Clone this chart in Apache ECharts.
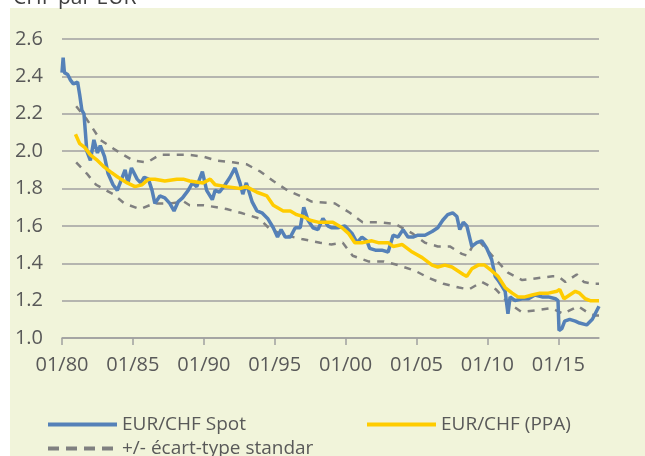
<!DOCTYPE html>
<html>
<head>
<meta charset="utf-8">
<script src="https://cdn.jsdelivr.net/npm/echarts@6/dist/echarts.min.js"></script>
<style>
  html, body { margin: 0; padding: 0; background: #fff; }
  #main { width: 645px; height: 456px; }
</style>
</head>
<body>
<div id="main"></div>
<script>
// data: [year, value]
var spot = [
  [1980.0, 2.42], [1980.08, 2.50], [1980.17, 2.42], [1980.4, 2.41], [1980.6, 2.38], [1980.8, 2.36],
  [1981.1, 2.37], [1981.25, 2.30], [1981.4, 2.22], [1981.55, 2.20], [1981.65, 2.10], [1981.75, 2.00],
  [1982.0, 1.95], [1982.25, 2.06], [1982.5, 1.99], [1982.7, 2.03], [1983.0, 1.97], [1983.25, 1.88],
  [1983.6, 1.82], [1983.9, 1.79], [1984.1, 1.83], [1984.45, 1.90], [1984.65, 1.83], [1984.9, 1.91],
  [1985.3, 1.85], [1985.55, 1.83], [1985.8, 1.86], [1986.1, 1.85], [1986.35, 1.79], [1986.55, 1.72],
  [1986.9, 1.76], [1987.25, 1.75], [1987.6, 1.72], [1987.9, 1.68], [1988.2, 1.73], [1988.5, 1.75],
  [1988.9, 1.79], [1989.2, 1.83], [1989.5, 1.81], [1989.9, 1.89], [1990.2, 1.79], [1990.6, 1.74],
  [1990.8, 1.79], [1991.1, 1.78], [1991.5, 1.82], [1991.85, 1.86], [1992.2, 1.91], [1992.55, 1.83],
  [1992.75, 1.77], [1993.0, 1.83], [1993.4, 1.73], [1993.75, 1.68], [1994.1, 1.67], [1994.5, 1.64],
  [1994.9, 1.59], [1995.2, 1.54], [1995.45, 1.58], [1995.75, 1.54], [1996.1, 1.54], [1996.45, 1.59],
  [1996.8, 1.59], [1997.05, 1.70], [1997.35, 1.63], [1997.7, 1.59], [1998.05, 1.58], [1998.4, 1.64],
  [1998.75, 1.60], [1999.0, 1.59], [1999.45, 1.59], [1999.95, 1.60], [2000.45, 1.56], [2000.8, 1.51],
  [2001.15, 1.54], [2001.5, 1.52], [2001.7, 1.48], [2002.1, 1.47], [2002.55, 1.47], [2003.0, 1.46],
  [2003.35, 1.55], [2003.7, 1.54], [2004.05, 1.58], [2004.4, 1.54], [2004.75, 1.54], [2005.1, 1.55],
  [2005.6, 1.55], [2006.1, 1.57], [2006.5, 1.59], [2006.85, 1.63], [2007.2, 1.66], [2007.55, 1.67],
  [2007.85, 1.65], [2008.05, 1.58], [2008.3, 1.62], [2008.55, 1.60], [2008.9, 1.49], [2009.25, 1.51],
  [2009.6, 1.52], [2009.95, 1.48], [2010.3, 1.42], [2010.55, 1.33], [2010.75, 1.31], [2011.0, 1.28],
  [2011.25, 1.25], [2011.45, 1.13], [2011.6, 1.22], [2011.95, 1.20], [2012.45, 1.21], [2012.9, 1.21],
  [2013.35, 1.23], [2013.85, 1.22], [2014.3, 1.22], [2014.8, 1.21], [2014.98, 1.20], [2015.05, 1.04],
  [2015.25, 1.05], [2015.45, 1.09], [2015.8, 1.10], [2016.2, 1.09], [2016.5, 1.08], [2017.0, 1.07],
  [2017.4, 1.10], [2017.6, 1.13], [2017.87, 1.17]
];

var ppa = [
  [1980.95, 2.09], [1981.25, 2.04], [1981.6, 2.02], [1982.0, 1.98], [1982.5, 1.95], [1982.9, 1.92],
  [1983.4, 1.89], [1983.95, 1.86], [1984.6, 1.83], [1985.15, 1.81], [1985.65, 1.82], [1986.1, 1.85],
  [1986.55, 1.85], [1987.25, 1.84], [1988.1, 1.85], [1988.55, 1.85], [1989.0, 1.84], [1989.95, 1.83],
  [1990.45, 1.85], [1990.8, 1.82], [1991.6, 1.81], [1992.55, 1.80], [1993.0, 1.81], [1993.75, 1.78],
  [1994.45, 1.76], [1994.9, 1.71], [1995.6, 1.68], [1996.1, 1.68], [1996.55, 1.66], [1997.0, 1.65],
  [1997.5, 1.63], [1998.05, 1.62], [1999.1, 1.62], [1999.75, 1.59], [2000.2, 1.56], [2000.65, 1.51],
  [2001.15, 1.51], [2001.85, 1.52], [2002.3, 1.51], [2003.0, 1.51], [2003.35, 1.49], [2004.0, 1.50],
  [2004.7, 1.46], [2005.4, 1.43], [2006.1, 1.39], [2006.5, 1.38], [2007.0, 1.39], [2007.5, 1.38],
  [2007.9, 1.36], [2008.3, 1.34], [2008.55, 1.33], [2008.9, 1.37], [2009.35, 1.39], [2009.8, 1.39],
  [2010.3, 1.36], [2010.75, 1.33], [2011.25, 1.27], [2011.75, 1.24], [2012.15, 1.22], [2012.65, 1.22],
  [2013.15, 1.23], [2013.7, 1.24], [2014.3, 1.24], [2014.9, 1.25], [2015.1, 1.26], [2015.4, 1.21],
  [2015.8, 1.23], [2016.2, 1.25], [2016.5, 1.24], [2016.9, 1.21], [2017.25, 1.20], [2017.87, 1.20]
];

var upper = [
  [1981.0, 2.24], [1981.75, 2.17], [1982.7, 2.06], [1983.9, 2.00], [1985.0, 1.95], [1986.0, 1.94],
  [1986.9, 1.98], [1988.1, 1.98], [1989.0, 1.98], [1990.0, 1.97], [1990.9, 1.95], [1992.05, 1.94],
  [1993.0, 1.93], [1994.0, 1.89], [1994.9, 1.84], [1995.9, 1.79], [1996.8, 1.76], [1997.6, 1.73],
  [1999.25, 1.72], [2000.3, 1.67], [2001.2, 1.62], [2002.3, 1.62], [2003.5, 1.61], [2004.7, 1.56],
  [2005.6, 1.51], [2006.5, 1.49], [2007.35, 1.49], [2008.2, 1.45], [2008.6, 1.44], [2009.0, 1.50],
  [2009.4, 1.52], [2010.0, 1.47], [2010.7, 1.41], [2011.45, 1.35], [2012.45, 1.31], [2013.5, 1.32],
  [2014.6, 1.33], [2015.0, 1.33], [2015.5, 1.30], [2016.3, 1.34], [2016.8, 1.30], [2017.45, 1.29],
  [2017.87, 1.29]
];

var lower = [
  [1981.0, 1.94], [1981.75, 1.88], [1982.4, 1.82], [1983.6, 1.77], [1984.4, 1.72], [1985.5, 1.69],
  [1986.5, 1.72], [1987.6, 1.72], [1988.6, 1.73], [1989.0, 1.71], [1990.0, 1.71], [1990.9, 1.70],
  [1991.6, 1.69], [1992.6, 1.67], [1993.9, 1.64], [1994.7, 1.58], [1995.7, 1.55], [1996.9, 1.53],
  [1998.2, 1.51], [1999.0, 1.50], [1999.8, 1.51], [2000.5, 1.44], [2001.6, 1.41], [2002.7, 1.41],
  [2003.7, 1.39], [2004.9, 1.36], [2005.9, 1.32], [2006.9, 1.29], [2008.0, 1.27], [2008.7, 1.26],
  [2009.6, 1.30], [2010.6, 1.26], [2011.45, 1.19], [2012.4, 1.14], [2013.6, 1.15], [2014.5, 1.16],
  [2015.35, 1.13], [2015.6, 1.14], [2016.4, 1.17], [2017.0, 1.14], [2017.6, 1.12], [2017.87, 1.12]
];

var xTicks = [1980, 1985, 1990, 1995, 2000, 2005, 2010, 2015];

var font = "'Open Sans', sans-serif";
var textColor = '#595959';
var bandName = '+/- écart-type standar';

var myChart = echarts.init(document.getElementById('main'));

function legendAt(name, left, top, lineType) {
    return {
        data: [name], left: left, top: top,
        itemWidth: 69, itemHeight: 18,
        itemStyle: { opacity: 0 },
        lineStyle: { width: 4, type: lineType || 'solid' },
        textStyle: { fontSize: 19, color: textColor, fontFamily: font }
    };
}

var option = {
    animation: false,
    textStyle: { fontFamily: font },
    graphic: [
        { type: 'rect', z: -10, shape: { x: 10, y: 8, width: 635, height: 448 }, style: { fill: '#F1F4DA' } },
        {
            type: 'text', x: 13, y: -2,
            style: { text: 'CHF par EUR', fontSize: 21, fontFamily: font, fill: '#404040', verticalAlign: 'middle' }
        }
    ],
    grid: { left: 62, right: 46, top: 39, bottom: 118 },
    legend: [
        legendAt('EUR/CHF Spot', 41, 410),
        legendAt('EUR/CHF (PPA)', 360, 410),
        legendAt(bandName, 41, 434, [11, 7])
    ],
    xAxis: {
        type: 'value',
        min: 1980,
        max: 2017.87,
        interval: 5,
        axisLine: { lineStyle: { color: '#A0A0A0', width: 1.5 } },
        axisTick: { show: true, length: 7, customValues: xTicks, lineStyle: { color: '#A0A0A0', width: 1.5 } },
        axisLabel: {
            customValues: xTicks,
            margin: 17,
            fontSize: 20,
            color: textColor,
            fontFamily: font,
            formatter: function (v) { return '01/' + String(Math.round(v)).slice(2); }
        },
        splitLine: { show: false }
    },
    yAxis: {
        type: 'value',
        min: 1.0,
        max: 2.6,
        interval: 0.2,
        axisLine: { show: false },
        axisTick: { show: false },
        axisLabel: {
            margin: 19,
            fontSize: 20,
            color: textColor,
            fontFamily: font,
            formatter: function (v) { return v.toFixed(1); }
        },
        splitLine: { lineStyle: { color: '#A0A0A0', width: 1.5 } }
    },
    series: [
        {
            name: bandName, type: 'line', data: upper, symbol: 'none', z: 2,
            lineStyle: { color: '#808080', width: 2.5, type: [7, 7] }, itemStyle: { color: '#808080' }
        },
        {
            name: bandName, type: 'line', data: lower, symbol: 'none', z: 2,
            lineStyle: { color: '#808080', width: 2.5, type: [7, 7] }, itemStyle: { color: '#808080' }
        },
        {
            name: 'EUR/CHF Spot', type: 'line', data: spot, symbol: 'none', z: 3,
            lineStyle: { color: '#5581B8', width: 3.5 }, itemStyle: { color: '#5581B8' }
        },
        {
            name: 'EUR/CHF (PPA)', type: 'line', data: ppa, symbol: 'none', z: 4,
            lineStyle: { color: '#FFCC00', width: 3.5 }, itemStyle: { color: '#FFCC00' }
        }
    ]
};

myChart.setOption(option);
</script>
</body>
</html>
